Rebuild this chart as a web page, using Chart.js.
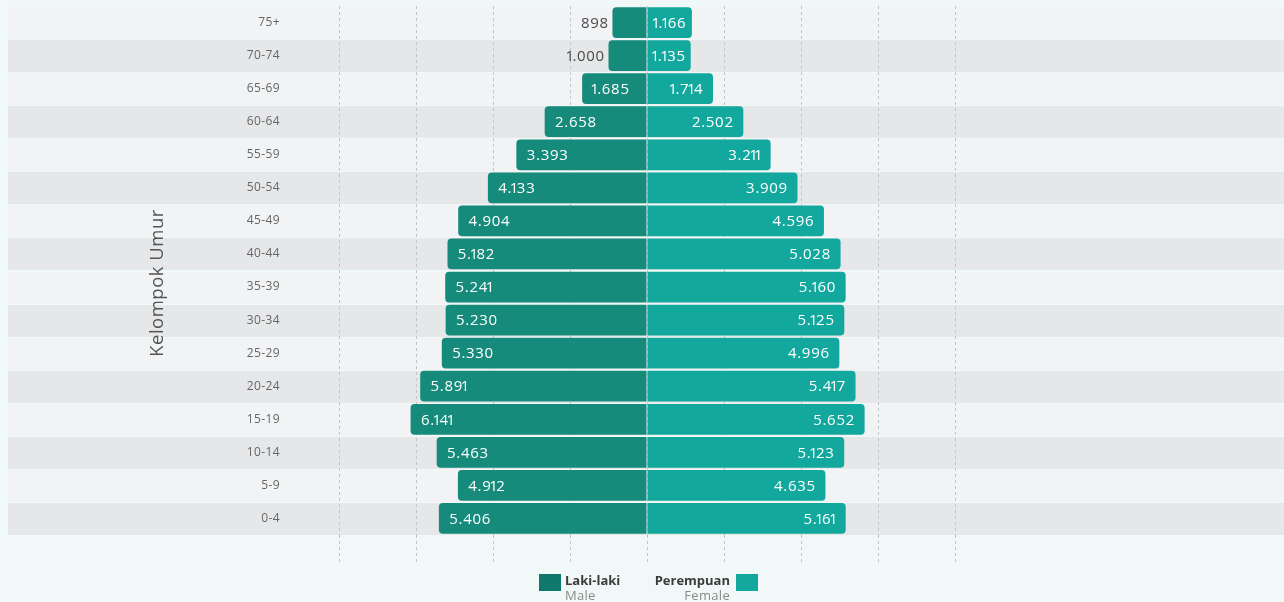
<!DOCTYPE html>
<html>
<head>
<meta charset="utf-8">
<script src="https://cdn.jsdelivr.net/npm/chart.js@4/dist/chart.umd.min.js"></script>
<style>
  html, body { margin: 0; padding: 0; background: #f0f9f8; }
  body { width: 1284px; height: 602px; position: relative; overflow: hidden; font-family: 'Open Sans', 'DejaVu Sans', sans-serif; }
  #pyramid { position: absolute; left: 0; top: 0; }
  .legend { position: absolute; top: 0; left: 0; width: 1284px; height: 602px; }
  .sw { position: absolute; width: 22px; height: 17px; }
  .lg { position: absolute; font-size: 13px; line-height: 15px; white-space: nowrap; }
  .lg b { color: #3c3c3c; font-weight: 700; display: block; }
  .lg span { color: #8a8a8a; display: block; letter-spacing: 0.3px; }
</style>
</head>
<body>
<canvas id="pyramid" width="1284" height="570"></canvas>
<div class="legend">
  <div class="sw" style="left:539px; top:574px; background:#0f796d;"></div>
  <div class="lg" style="left:565px; top:573px;"><b>Laki-laki</b><span>Male</span></div>
  <div class="lg" style="right:554px; top:573px; text-align:right;"><b>Perempuan</b><span>Female</span></div>
  <div class="sw" style="left:736px; top:574px; background:#13a89e;"></div>
</div>
<script>
// Age groups, top row first
const ageGroups = ['75+', '70-74', '65-69', '60-64', '55-59', '50-54', '45-49', '40-44',
                   '35-39', '30-34', '25-29', '20-24', '15-19', '10-14', '5-9', '0-4'];
// Population by sex
const maleCounts = [898, 1000, 1685, 2658, 3393, 4133, 4904, 5182,
                    5241, 5230, 5330, 5891, 6141, 5463, 4912, 5406];
const femaleCounts = [1166, 1135, 1714, 2502, 3211, 3909, 4596, 5028,
                      5160, 5125, 4996, 5417, 5652, 5123, 4635, 5161];
// Dashed guide positions on the value axis
const guideTicks = [-8000, -6000, -4000, -2000, 0, 2000, 4000, 6000, 8000];

const FONT = "'Open Sans', 'DejaVu Sans', sans-serif";

function fmt(v) {
  return String(Math.round(Math.abs(v))).replace(/\B(?=(\d{3})+(?!\d))/g, '.');
}

// Per-character advances: proportional "1", slight tracking elsewhere
function charAdvances(ctx, txt) {
  const digitW = ctx.measureText('0').width;
  return [...txt].map(ch => {
    if (ch === '1') return digitW * 0.55;
    return ctx.measureText(ch).width + 0.7;
  });
}

function drawNumber(ctx, txt, x, y, align) {
  const adv = charAdvances(ctx, txt);
  const total = adv.reduce((a, b) => a + b, 0);
  let start = align === 'left' ? x : align === 'right' ? x - total : x - total / 2;
  ctx.textAlign = 'center';
  [...txt].forEach((ch, i) => {
    ctx.fillText(ch, start + adv[i] / 2, y);
    start += adv[i];
  });
}

// Alternating row bands spanning the full width
const rowBands = {
  id: 'rowBands',
  beforeDraw(chart) {
    const { ctx } = chart;
    ctx.letterSpacing = '0.4px';
    const y = chart.scales.y;
    const step = (y.bottom - y.top) / ageGroups.length;
    ctx.save();
    ageGroups.forEach((g, i) => {
      const c = y.getPixelForValue(i);
      ctx.fillStyle = i % 2 === 0 ? '#f2f3f5' : '#e6e7e9';
      ctx.fillRect(8, Math.round(c - step / 2) + 1, chart.width - 8, Math.round(step) - 1);
    });
    ctx.restore();
  }
};

// Rotated axis caption
const axisCaption = {
  id: 'axisCaption',
  afterDraw(chart) {
    const { ctx } = chart;
    ctx.save();
    ctx.translate(158, 283);
    ctx.rotate(-Math.PI / 2);
    ctx.font = `18.5px ${FONT}`;
    ctx.letterSpacing = '0.5px';
    ctx.fillStyle = '#555555';
    ctx.textAlign = 'center';
    ctx.textBaseline = 'middle';
    ctx.fillText('Kelompok Umur', 0, 0);
    ctx.restore();
  }
};

// Value labels on each bar
const barValues = {
  id: 'barValues',
  afterDatasetsDraw(chart) {
    const { ctx } = chart;
    ctx.save();
    ctx.font = `15px ${FONT}`;
    ctx.letterSpacing = '0px';
    ctx.textBaseline = 'middle';
    chart.data.datasets.forEach((ds, di) => {
      const meta = chart.getDatasetMeta(di);
      meta.data.forEach((bar, i) => {
        const v = ds.data[i];
        const txt = fmt(v);
        const w = charAdvances(ctx, txt).reduce((a, b) => a + b, 0);
        const left = Math.min(bar.x, bar.base);
        const right = Math.max(bar.x, bar.base);
        const len = right - left;
        const cy = bar.y + 1;
        if (w + 20 <= len) {
          ctx.fillStyle = '#ffffff';
          if (v < 0) drawNumber(ctx, txt, left + 10, cy, 'left');
          else drawNumber(ctx, txt, right - 10, cy, 'right');
        } else if (w + 8 <= len) {
          ctx.fillStyle = '#ffffff';
          drawNumber(ctx, txt, (left + right) / 2, cy, 'center');
        } else {
          ctx.fillStyle = '#4a4a4a';
          if (v < 0) drawNumber(ctx, txt, left - 4, cy, 'right');
          else drawNumber(ctx, txt, right + 4, cy, 'left');
        }
      });
    });
    ctx.restore();
  }
};

new Chart(document.getElementById('pyramid'), {
  type: 'bar',
  data: {
    labels: ageGroups,
    datasets: [
      {
        label: 'Laki-laki',
        data: maleCounts.map(v => -v),
        backgroundColor: '#168b7b',
        borderRadius: 4,
        borderSkipped: 'start',
        barPercentage: 0.93,
        categoryPercentage: 1
      },
      {
        label: 'Perempuan',
        data: femaleCounts,
        backgroundColor: '#13a89d',
        borderRadius: 4,
        borderSkipped: 'start',
        barPercentage: 0.93,
        categoryPercentage: 1
      }
    ]
  },
  options: {
    indexAxis: 'y',
    responsive: false,
    animation: false,
    layout: { padding: { left: 8, right: 329, top: 6, bottom: 8 } },
    plugins: {
      legend: { display: false },
      tooltip: { enabled: false }
    },
    scales: {
      x: {
        type: 'linear',
        stacked: true,
        min: guideTicks[0],
        max: guideTicks[guideTicks.length - 1],
        afterBuildTicks(scale) { scale.ticks = guideTicks.map(v => ({ value: v })); },
        afterFit(scale) { scale.paddingLeft = 0; scale.paddingRight = 0; },
        ticks: { display: false },
        grid: {
          color: '#c2c4c6',
          lineWidth: 1,
          drawTicks: true,
          tickLength: 27,
          tickColor: '#c2c4c6',
          tickWidth: 1,
          tickBorderDash: [3, 3]
        },
        border: { display: false, dash: [3, 3] }
      },
      y: {
        stacked: true,
        afterFit(scale) {
          scale.width = 331;
          scale.paddingTop = 0;
          scale.paddingBottom = 0;
        },
        ticks: {
          color: '#666666',
          font: { family: FONT, size: 12 },
          padding: 59
        },
        grid: { display: false, drawTicks: false },
        border: { display: false }
      }
    }
  },
  plugins: [rowBands, barValues, axisCaption]
});
</script>
</body>
</html>
